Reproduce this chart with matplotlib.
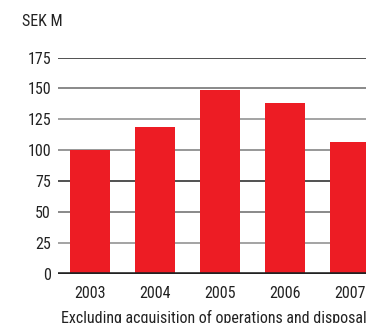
import matplotlib
matplotlib.use("Agg")
import matplotlib.pyplot as plt
from matplotlib import font_manager

years = ["2003", "2004", "2005", "2006", "2007"]
values = [100, 119, 149, 138, 107]
yticks = [0, 25, 50, 75, 100, 125, 150, 175]

names = {f.name for f in font_manager.fontManager.ttflist}
family = "Liberation Sans"
for cand in ["Liberation Sans Narrow", "Arial Narrow", "Roboto Condensed",
             "Open Sans Condensed"]:
    if cand in names:
        family = cand
        break
plt.rcParams["font.family"] = [family, "DejaVu Sans"]
narrow = family != "Liberation Sans"
fs = 11.5 if narrow else 10.5

fig = plt.figure(figsize=(3.66, 3.23), dpi=100)
ax = fig.add_axes([58 / 366, 49 / 323, 1 - 58 / 366, 216.5 / 323])

x = list(range(len(years)))
ax.bar(x, values, width=0.615, color="#ED1C24", zorder=2)

grid_colors = {25: "#8a8a8a", 50: "#6a6a6a", 75: "#222222", 100: "#7a7a7a",
               125: "#8a8a8a", 150: "#6a6a6a", 175: "#222222"}
for t in yticks[1:]:
    ax.axhline(t, color=grid_colors[t], lw=1.1, zorder=1)
ax.axhline(0, color="#222222", lw=2.6, zorder=3)

ax.set_xlim(-0.492, 4.246)
ax.set_ylim(0, 175)
ax.set_yticks(yticks)
ax.set_yticklabels([str(t) for t in yticks], fontsize=fs, color="#222222")
ax.set_xticks(x)
ax.set_xticklabels(years, fontsize=fs, color="#222222")
ax.tick_params(axis="both", length=0)
ax.tick_params(axis="y", pad=5)
ax.tick_params(axis="x", pad=9)
for s in ax.spines.values():
    s.set_visible(False)

fig.text(22 / 366, 1 - 22 / 323, "SEK M", fontsize=fs, color="#222222",
         ha="left", va="center")
fig.text(61 / 366, 1 - 318 / 323, "Excluding acquisition of operations and disposals",
         fontsize=fs if narrow else 9.6, color="#222222", ha="left", va="center")

fig.savefig("out.png", dpi=100)
